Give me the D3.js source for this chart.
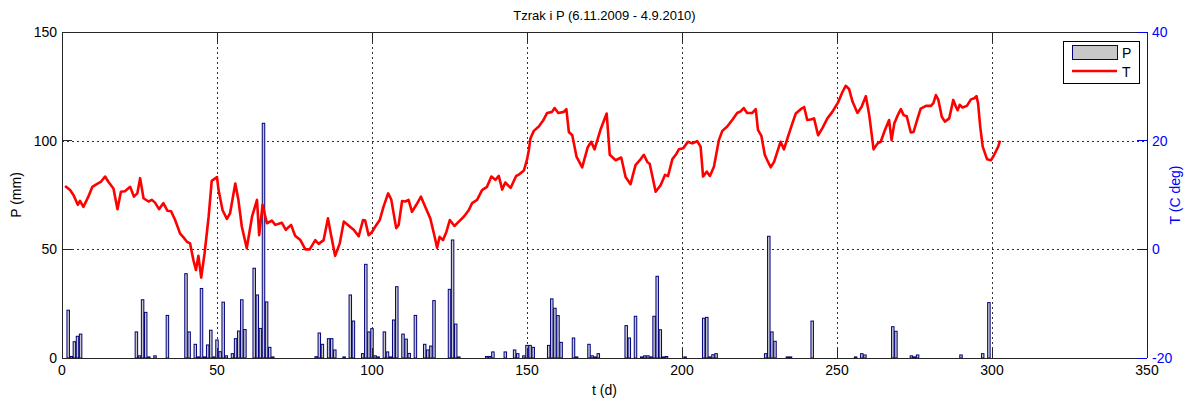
<!DOCTYPE html>
<html><head><meta charset="utf-8">
<script src="https://cdn.jsdelivr.net/npm/d3@7"></script>
<style>body{margin:0;background:#fff}svg{display:block;font-family:"Liberation Sans",Arial,sans-serif}</style>
</head><body>
<script>
// ---- data ----
const title = "Tzrak i P (6.11.2009 - 4.9.2010)";
const xTicks = [0,50,100,150,200,250,300,350];
const pTicks = [0,50,100,150];
const tTicks = [-20,0,20,40];
const precipDays = [2,3,4,5,6,24,25,26,27,28,30,34,40,41,43,44,45,46,47,48,49,50,51,52,53,55,56,57,58,59,62,63,64,65,66,67,68,
 82,83,84,86,87,88,91,93,94,97,98,99,100,101,102,104,105,106,107,108,110,111,112,114,117,118,119,120,125,126,127,128,
 137,138,139,143,146,147,149,150,151,152,157,158,159,160,161,165,166,170,171,172,173,
 182,183,185,187,188,189,190,191,192,193,194,195,201,207,208,209,210,211,
 227,228,229,230,234,235,242,256,258,259,268,269,274,275,276,290,297,299];
const precipMm = [22,0.7,7.5,10,11,12,1,26.8,21,0.5,1,19.6,38.8,12,6.3,0.5,32,0.5,6,12.8,0.5,8.3,2.9,25.7,1,2,8.9,12.4,26.8,13.1,41.3,29,13.6,108,25.8,4.9,0.5,
 0.6,11.5,6.3,8.9,8.9,3.7,0.5,29,17,2,43.1,12,13.5,1,0.5,12,2.8,0.5,17.5,32.8,11,8.7,2.1,19.6,6.3,3.7,5.5,26.4,31.6,54.3,15.6,0.5,
 0.7,0.7,2.8,2.8,3.7,2,1,5.8,5.8,4.9,5.8,27.2,22.9,19.5,7.2,9.2,0.5,6.3,1,0.5,2,
 14.9,9.2,19.2,0.5,1,1,0.5,19.2,37.6,13,0.5,0.7,0.5,18.3,18.7,0.5,1.5,2,
 2,56,12,7.7,0.5,0.5,17,0.5,2,1.4,14.4,12.3,1,0.5,1.4,1.4,2,25.5];
const tempDays = [1,2.6,3.7,5.1,5.8,6.9,8.5,9.8,11.2,12.5,13.9,15,16.6,17.9,19,20.3,22,23.2,24.3,25.2,26.3,27.9,29,30,31.3,32.7,34,35.2,36.5,38.1,39.2,40.3,41.3,42.4,43.2,44,44.9,46,47.3,48.3,50,50.5,51.8,53.2,54.2,55.9,56.9,58,59.6,61.3,62.9,63.6,64.7,66.1,67.7,68.8,70.9,72.2,73.9,75.2,76.9,78.5,79.9,81.7,82.8,84.4,85.8,86.7,88.1,89.6,90.9,92.8,94.1,95.7,97.1,97.8,98.9,100,101.4,102.5,103.7,105.2,106.2,107.8,108.6,109.7,110.8,111.8,112.9,114.3,115.8,117.2,118.8,120.1,121,121.8,122.9,124,125.1,126.6,128,129.6,131.2,132.3,133.9,135.5,137.1,138.5,139.8,140.9,142,143,144.7,146.5,147.5,149,150,150.6,151.1,152.2,153.8,155.2,156.5,158.1,158.9,160.1,161.9,162.7,163.5,164.6,166,167.8,169.6,170.7,171.8,173.7,175.7,176.7,178.6,180.4,181.8,183.4,185,186.4,187.7,188.8,189.6,191.5,193.1,194.5,195.5,196.9,198,199,200.4,201.9,203.3,204.9,206,206.8,208,209,210.3,211.9,213,214.6,216.2,217.8,218.9,219.9,221,222.7,223.8,224.5,225.6,226.7,227.5,228.6,229.7,231,231.8,232.9,234,235.6,236.7,238.3,239.4,240.4,241.5,242.6,243.9,245.3,246.9,248.5,250.3,251.8,252.8,253.9,255,256.6,257.9,259.3,260.4,261.8,263.1,264.1,265.5,266.8,267.6,268.5,269.6,270.6,271.5,272.5,273.8,274.7,276,277,278.7,280.3,281.1,281.9,282.7,283.8,284.8,286.2,287.5,288.4,288.9,289.6,290.5,291.9,293.2,294.3,295,295.5,296.2,297,298.4,299.7,300.7,302,302.6];
const tempC = [11.65,10.9,10.0,8.2,8.9,7.8,9.7,11.5,12.0,12.4,13.4,12.4,11.2,7.4,10.6,10.7,11.5,9.7,10.3,13.1,9.4,8.8,9.1,8.6,7.4,8.5,7.1,7.0,5.4,2.9,2.2,1.4,1.1,-2.0,-3.8,-1.2,-5.2,-0.7,6.0,12.6,13.3,10.9,7.2,5.6,6.6,12.1,9.1,4.2,0.2,6.0,9.1,2.6,8.2,4.8,5.3,4.5,4.9,3.6,4.5,2.5,1.7,0,0,1.7,1.0,1.7,5.7,2.9,-1.2,1.1,5.1,4.2,3.6,2.4,5.4,5.3,2.6,3.2,4.5,5.4,7.8,10.3,9.2,3.9,4.5,8.9,8.8,9.1,6.9,8.2,9.7,7.8,5.7,2.6,0.3,2.3,1.7,3.2,5.4,4.3,5.1,6.0,7.2,8.5,9.1,10.9,11.5,13.4,12.8,13.5,11.0,12.3,11.3,13.5,13.8,14.5,16.5,18.3,20.4,21.8,22.6,23.7,25.1,25.3,26.0,25.1,25.3,25.8,21.6,21.0,17.0,15.1,18.8,19.8,18.4,22.0,25.0,17.4,16.4,16.9,13.3,12.0,15.5,16.4,17.4,16.1,15.7,10.6,11.8,13.7,13.5,16.6,17.4,18.4,18.6,19.8,19.5,19.9,18.9,13.4,14.3,13.5,15.2,20.1,21.8,22.6,23.8,25.1,25.4,26.0,25.1,25.1,25.8,22.0,20.9,17.4,16.4,15.1,16.1,18.4,19.8,18.4,20.4,23.2,25.0,25.8,26.2,23.8,23.9,24.1,21.0,22.3,24.1,25.3,27.0,29.0,30.1,29.5,27.2,25.1,26.2,28.2,24.7,18.4,19.5,19.8,22.0,23.8,20.1,23.2,24.7,25.8,24.7,24.5,21.5,21.6,24.1,25.9,26.4,26.4,26.9,28.4,27.5,24.4,23.5,24.1,27.5,26.2,25.6,26.6,26.1,26.4,27.6,27.8,28.2,26.9,22.6,18.9,16.6,16.4,17.4,18.9,20.0];

// ---- layout ----
const W = 1186, H = 400;
const L = 62, R = 1147, T = 32, B = 358;
const svg = d3.select("body").append("svg").attr("width", W).attr("height", H);
const x = d3.scaleLinear().domain([0,350]).range([L,R]);
const yP = d3.scaleLinear().domain([0,150]).range([B,T]);
const yT = d3.scaleLinear().domain([-20,40]).range([B,T]);
const font = 14, tickLen = 10;

// grid
const g = svg.append("g");
g.selectAll(".gx").data(xTicks.filter(d=>d>0&&d<350)).join("line")
  .attr("x1",d=>Math.round(x(d))+0.5).attr("x2",d=>Math.round(x(d))+0.5).attr("y1",T).attr("y2",B)
  .attr("stroke","#000").attr("stroke-dasharray","2,3").attr("stroke-width",1).attr("opacity",0.8);
g.selectAll(".gy").data(pTicks.filter(d=>d>0&&d<150)).join("line")
  .attr("x1",L).attr("x2",R).attr("y1",d=>Math.round(yP(d))+0.5).attr("y2",d=>Math.round(yP(d))+0.5)
  .attr("stroke","#000").attr("stroke-dasharray","2,3").attr("stroke-width",1).attr("opacity",0.8);

// bars
const bw = (x(1)-x(0))*0.8;
svg.append("g").selectAll("rect").data(precipDays.map((d,i)=>({d, v:precipMm[i]}))).join("rect")
  .attr("x",d=>x(d.d)-bw/2).attr("width",bw)
  .attr("y",d=>yP(d.v)).attr("height",d=>B-yP(d.v))
  .attr("fill","#c8c8c8").attr("stroke","#00007f").attr("stroke-width",1);

// temperature line
const line = d3.line().x(d=>x(d[0])).y(d=>yT(d[1]));
svg.append("path").datum(tempDays.map((d,i)=>[d,tempC[i]]))
  .attr("d",line).attr("fill","none").attr("stroke","#ff0000").attr("stroke-width",2.6).attr("stroke-linejoin","round");

// axes box
const ax = svg.append("g").attr("stroke-width",1).attr("shape-rendering","crispEdges");
ax.append("line").attr("x1",L).attr("x2",R).attr("y1",T).attr("y2",T).attr("stroke","#262626");
ax.append("line").attr("x1",L).attr("x2",R).attr("y1",B).attr("y2",B).attr("stroke","#262626");
ax.append("line").attr("x1",L).attr("x2",L).attr("y1",T).attr("y2",B).attr("stroke","#262626");
ax.append("line").attr("x1",R).attr("x2",R).attr("y1",T).attr("y2",B).attr("stroke","#0000ff");
xTicks.forEach(d=>{
  ax.append("line").attr("x1",x(d)).attr("x2",x(d)).attr("y1",B).attr("y2",B-tickLen).attr("stroke","#262626");
  ax.append("line").attr("x1",x(d)).attr("x2",x(d)).attr("y1",T).attr("y2",T+tickLen).attr("stroke","#262626");
});
pTicks.forEach(d=>{
  ax.append("line").attr("x1",L).attr("x2",L+tickLen).attr("y1",yP(d)).attr("y2",yP(d)).attr("stroke","#262626");
});
tTicks.forEach(d=>{
  ax.append("line").attr("x1",R).attr("x2",R-tickLen).attr("y1",yT(d)).attr("y2",yT(d)).attr("stroke","#0000ff");
});

// tick labels
svg.append("g").selectAll("text").data(xTicks).join("text")
  .attr("x",d=>x(d)).attr("y",B+17).attr("text-anchor","middle").attr("font-size",font).attr("fill","#000").text(d=>d);
svg.append("g").selectAll("text").data(pTicks).join("text")
  .attr("x",L-5).attr("y",d=>yP(d)+5).attr("text-anchor","end").attr("font-size",font).attr("fill","#000").text(d=>d);
svg.append("g").selectAll("text").data(tTicks).join("text")
  .attr("x",R+5).attr("y",d=>yT(d)+5).attr("text-anchor","start").attr("font-size",font).attr("fill","#0000ff").text(d=>d);

// titles
svg.append("text").attr("x",(L+R)/2).attr("y",20).attr("text-anchor","middle").attr("font-size",13).text(title);
svg.append("text").attr("x",(L+R)/2).attr("y",395).attr("text-anchor","middle").attr("font-size",font).text("t (d)");
svg.append("text").attr("transform",`translate(21,${(T+B)/2}) rotate(-90)`).attr("text-anchor","middle").attr("font-size",font).text("P (mm)");
svg.append("text").attr("transform",`translate(1180,${(T+B)/2}) rotate(-90)`).attr("text-anchor","middle").attr("font-size",font).attr("fill","#0000ff").text("T (C deg)");

// legend
const lg = svg.append("g");
lg.append("rect").attr("x",1063.5).attr("y",41.5).attr("width",76).attr("height",42).attr("fill","#fff").attr("stroke","#000");
lg.append("rect").attr("x",1072.5).attr("y",45.5).attr("width",45).attr("height",14).attr("fill","#c8c8c8").attr("stroke","#00007f");
lg.append("line").attr("x1",1072).attr("x2",1117).attr("y1",71).attr("y2",71).attr("stroke","#ff0000").attr("stroke-width",2.6);
lg.append("text").attr("x",1122).attr("y",58).attr("font-size",font).text("P");
lg.append("text").attr("x",1122).attr("y",77).attr("font-size",font).text("T");
</script>
</body></html>
